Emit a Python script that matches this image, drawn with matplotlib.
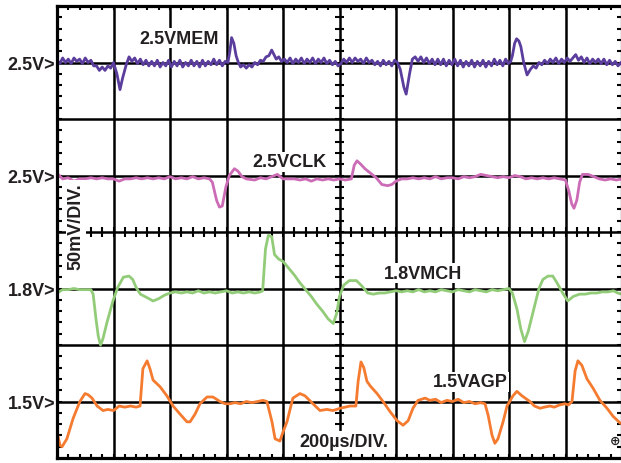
import numpy as np
import matplotlib
matplotlib.use("Agg")
import matplotlib.pyplot as plt
from matplotlib.collections import LineCollection

# ---------------- data ----------------
US_PER_DIV = 200      # time base, microseconds per division
MV_PER_DIV = 50       # vertical scale, millivolts per division

channel_names = ["2.5VMEM", "2.5VCLK", "1.8VMCH", "1.5VAGP"]
channel_levels = ["2.5V>", "2.5V>", "1.8V>", "1.5V>"]
time_label = "200\u00b5s/DIV."
volt_label = "50mV/DIV."

# (time in us, deviation in mV)
vmem = [(0, 2), (10, -1), (20, 4), (30, 0), (40, 3), (50, -1), (60, 4), (70, 1), (80, 3), (90, -1),
        (100, 4), (110, 0), (120, 2), (130, -3), (140, -3), (150, -7), (160, -4), (170, -7), (180, -3),
        (190, -5), (200, 0), (212, -10), (223, -24), (232, -14), (245, -2), (255, 5), (265, 1), (275, 4),
        (285, -1), (295, 3), (305, -2), (315, 2), (325, -3), (335, 1), (345, -3), (355, 2), (365, -4),
        (375, 0), (385, -3), (395, 2), (405, -4), (415, 1), (425, -3), (435, 2), (445, -4), (455, 0),
        (465, -3), (475, 2), (485, -3), (495, 1), (505, -4), (515, 2), (525, -3), (535, 1), (545, -2),
        (555, 3), (565, -2), (575, 2), (585, -3), (595, 1), (605, 0), (612, 10), (618, 22), (626, 17),
        (634, 6), (642, 0), (650, -4), (660, -2), (670, -5), (680, -2), (690, -4), (700, 0), (710, -2),
        (720, 2), (730, 1), (740, 5), (750, 6), (760, 11), (768, 7), (776, 3), (785, 5), (795, 1),
        (805, 3), (815, 0), (825, 4), (835, -1), (845, 3), (855, 0), (865, 4), (875, -1), (885, 3),
        (895, 0), (905, 4), (915, -1), (925, 3), (935, 0), (945, 4), (955, -1), (965, 2), (975, -2),
        (985, 1), (995, -3), (1005, -1), (1015, 3), (1025, 0), (1035, 4), (1045, 0), (1055, 4), (1065, 1),
        (1075, 3), (1085, -1), (1095, 4), (1105, 0), (1115, 2), (1125, -2), (1135, 1), (1145, -3),
        (1155, 2), (1165, -2), (1175, 1), (1185, -3), (1195, 2), (1205, 0), (1215, -6), (1228, -22),
        (1236, -28), (1248, -10), (1258, 3), (1268, 5), (1278, 1), (1288, 5), (1298, 0), (1308, 4),
        (1318, -1), (1328, 3), (1338, -2), (1348, 3), (1358, -2), (1368, 3), (1378, -3), (1388, 2),
        (1398, -2), (1408, 3), (1418, -3), (1428, 2), (1438, -4), (1448, 1), (1458, -3), (1468, 2),
        (1478, -4), (1488, 1), (1498, -3), (1508, 2), (1518, -4), (1528, 1), (1538, -3), (1548, 3),
        (1558, -2), (1568, 2), (1578, -3), (1588, 3), (1598, -1), (1606, 1), (1612, 6), (1620, 17),
        (1627, 21), (1635, 19), (1642, 14), (1652, 0), (1664, -11), (1676, -6), (1686, -3), (1696, -5),
        (1706, 0), (1716, -2), (1726, 2), (1736, -1), (1746, 3), (1756, 0), (1766, 4), (1776, -1),
        (1786, 3), (1796, 0), (1806, 4), (1816, 1), (1826, 4), (1836, 7), (1846, 2), (1856, 5), (1866, 0),
        (1876, 4), (1886, -1), (1896, 3), (1906, 0), (1916, 3), (1926, -1), (1936, 3), (1946, -2),
        (1956, 2), (1966, -2), (1976, 1), (1986, -3), (1996, 0), (2000, -2)]

vclk = [(0, 2), (20, -3), (40, -2), (60, -5), (80, -3), (100, -3), (120, -2), (140, -3), (160, -2),
        (180, -3), (200, -3), (220, -5), (240, -3), (260, -3), (280, -2), (300, -3), (320, -2), (340, -3),
        (360, -2), (380, -3), (400, -1), (420, -3), (440, -2), (460, -3), (480, -1), (500, -3), (520, -2),
        (540, -3), (550, -6), (565, -22), (575, -28), (585, -27), (598, -10), (610, 0), (628, 6),
        (640, 4), (655, -1), (670, -3), (700, -4), (720, -2), (740, -3), (760, -1), (780, 1), (800, -3),
        (820, -3), (840, -3), (860, -4), (880, -3), (900, -5), (920, -3), (940, -4), (960, -3), (980, -4),
        (1000, -3), (1020, -4), (1042, -3), (1052, 9), (1062, 13), (1075, 10), (1090, 6), (1110, 2),
        (1130, -2), (1150, -8), (1170, -9), (1185, -8), (1200, -5), (1220, -3), (1240, -3), (1260, -2),
        (1280, -3), (1300, -2), (1320, -3), (1340, -1), (1360, -3), (1380, -2), (1400, -2), (1420, -3),
        (1440, -1), (1460, -2), (1480, -1), (1500, 1), (1520, 0), (1540, -1), (1560, -2), (1580, -1),
        (1600, -2), (1620, 0), (1640, -1), (1660, -3), (1680, -2), (1700, -3), (1720, -2), (1740, -3),
        (1760, -2), (1780, -3), (1800, -4), (1812, -14), (1822, -25), (1830, -29), (1840, -22),
        (1850, -6), (1860, 1), (1880, 1), (1900, -1), (1920, -3), (1940, -4), (1960, -3), (1980, -4),
        (2000, -3)]

vmch = [(0, -4), (20, -1), (40, -1), (60, 0), (80, -1), (100, -1), (120, -1), (128, -5), (138, -27),
        (146, -42), (154, -50), (162, -45), (178, -29), (198, -11), (215, 1), (235, 10), (255, 11),
        (268, 8), (280, 1), (295, -5), (318, -8), (340, -11), (360, -9), (380, -6), (400, -4), (420, -3),
        (440, -4), (460, -3), (480, -4), (500, -2), (520, -4), (540, -3), (560, -4), (580, -3), (600, -2),
        (620, -4), (640, -3), (660, -4), (680, -3), (700, -4), (720, -3), (728, -2), (738, 35), (748, 47),
        (760, 46), (770, 30), (785, 26), (800, 24), (820, 18), (840, 12), (860, 5), (880, -1), (900, -7),
        (920, -14), (940, -20), (960, -27), (978, -31), (990, -22), (1000, -7), (1015, 3), (1035, 7),
        (1060, 7), (1080, 2), (1100, -4), (1120, -5), (1140, -4), (1160, -4), (1180, -3), (1200, -2),
        (1220, -3), (1240, -2), (1260, -3), (1280, -1), (1300, -3), (1320, -2), (1340, -3), (1360, -1),
        (1380, -2), (1400, -3), (1420, -1), (1440, -2), (1460, -3), (1480, -1), (1500, -2), (1520, -3),
        (1540, -1), (1560, -2), (1580, -1), (1600, 0), (1612, -4), (1628, -18), (1642, -36), (1655, -47),
        (1668, -38), (1688, -18), (1706, 0), (1720, 8), (1738, 11), (1755, 11), (1770, 5), (1790, -4),
        (1808, -11), (1828, -7), (1850, -5), (1870, -5), (1890, -4), (1910, -4), (1930, -3), (1950, -3),
        (1970, -2), (1985, -4), (2000, -5)]

vagp = [(0, -27), (11, -39), (18, -40), (35, -33), (57, -15), (81, 0), (99, 7), (110, 6), (124, 3),
        (142, -4), (163, -8), (180, -7), (200, -8), (220, -4), (240, -5), (260, -4), (280, -5), (294, -4),
        (304, 29), (319, 36), (329, 29), (340, 19), (365, 13), (389, 5), (411, -4), (435, -11), (460, -18),
        (471, -18), (489, -11), (506, -2), (531, 4), (552, 4), (577, 0), (595, -2), (612, -2), (630, -1),
        (650, -2), (670, 0), (690, -1), (710, 0), (729, 1), (743, 0), (761, -18), (772, -33), (789, -35),
        (800, -27), (814, -18), (835, 3), (860, 7), (878, 5), (906, -2), (931, -8), (955, -7), (977, -8),
        (1002, -6), (1020, -5), (1037, -4), (1058, -4), (1066, 18), (1076, 35), (1086, 30), (1097, 18),
        (1108, 14), (1133, 7), (1154, 0), (1179, -9), (1204, -17), (1225, -21), (1243, -17), (1260, -6),
        (1278, 1), (1303, 3), (1320, 1), (1340, 2), (1360, -1), (1380, 1), (1400, 0), (1420, 2),
        (1440, -1), (1460, 0), (1480, -2), (1500, -1), (1515, -2), (1526, -12), (1540, -30), (1550, -37),
        (1561, -33), (1579, -18), (1593, -4), (1614, 5), (1628, 9), (1646, 5), (1674, 0), (1690, -4),
        (1710, -6), (1725, -5), (1745, -4), (1760, -5), (1780, -3), (1798, -2), (1810, -3), (1823, 0),
        (1834, 27), (1844, 36), (1858, 32), (1876, 20), (1897, 12), (1922, 1), (1947, -6), (1968, -13),
        (1993, -19), (2000, -20)]

traces = [vmem, vclk, vmch, vagp]

# ---------------- style / layout ----------------
colors = ["#5a3d9c", "#cc6cb6", "#93cc79", "#f47b2f"]
baselines = [7, 5, 3, 1]                      # graticule division of each channel's reference level
label_pos = [(2.16, 7.43), (4.12, 5.24), (6.48, 3.27), (7.31, 1.35)]
FONT = "Liberation Sans"

W, H = 621, 464
fig = plt.figure(figsize=(W / 100, H / 100), dpi=100)
fig.patch.set_facecolor("white")
ax = fig.add_axes([57 / W, 5 / H, 565 / W, 452 / H])
ax.set_xlim(0, 10)
ax.set_ylim(0, 8)
ax.set_xticks([])
ax.set_yticks([])
for s in ax.spines.values():
    s.set_linewidth(2.3)
    s.set_color("black")
    s.set_zorder(5)

# graticule
for i in range(1, 10):
    ax.axvline(i, color="black", lw=1.8, zorder=1)
for j in range(1, 8):
    ax.axhline(j, color="black", lw=1.8, zorder=1)

segs = []
th = 0.085
for k in np.arange(0.2, 10, 0.2):
    segs.append([(k, 4 - th), (k, 4 + th)])       # centre horizontal line
    segs.append([(k, 8), (k, 8 - 0.07)])           # top border
    segs.append([(k, 0), (k, 0.07)])               # bottom border
for k in np.arange(0.2, 8, 0.2):
    segs.append([(5 - th, k), (5 + th, k)])       # centre vertical line
    segs.append([(0, k), (0.08, k)])               # left border
    segs.append([(10, k), (10 - 0.08, k)])         # right border
ax.add_collection(LineCollection(segs, colors="black", linewidths=1.5, zorder=1))

# traces
for pts, base, col in zip(traces, baselines, colors):
    t = np.array([p[0] for p in pts], dtype=float)
    v = np.array([p[1] for p in pts], dtype=float)
    ax.plot(t / US_PER_DIV, base + v / MV_PER_DIV, color=col, lw=2.0,
            solid_joinstyle="round", zorder=3)

box = dict(facecolor="white", edgecolor="none", pad=1.0)
for name, (x, y) in zip(channel_names, label_pos):
    ax.text(x, y, name, ha="center", va="center", fontsize=13, fontweight="bold",
            family=FONT, color="#231f20", bbox=box, zorder=4)

for lvl, base in zip(channel_levels, baselines):
    ax.text(-0.03, base - 0.03, lvl, ha="right", va="center", fontsize=13, fontweight="bold",
            family=FONT, color="#231f20", clip_on=False)

ax.text(5.08, 0.30, time_label, ha="center", va="center", fontsize=13, fontweight="bold",
        family=FONT, color="#231f20", bbox=box, zorder=4)
ax.text(0.336, 4.12, volt_label, ha="center", va="center", rotation=90, fontsize=13,
        fontweight="bold", family=FONT, color="#231f20", bbox=box, zorder=4)
ax.text(9.87, 0.31, "\u2295", ha="center", va="center", fontsize=9, fontweight="bold",
        family="DejaVu Sans", color="#231f20", zorder=4)

fig.savefig("out.png", dpi=100, facecolor="white")
